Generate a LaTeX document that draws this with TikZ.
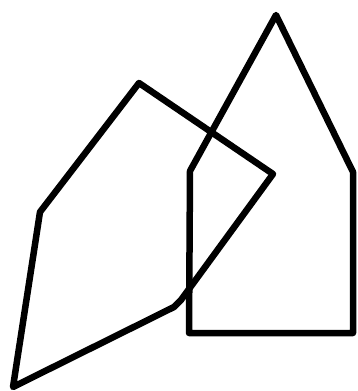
\documentclass[tikz,border=0pt]{standalone}
\usepackage{tikz}

\begin{document}
\begin{tikzpicture}[x=1pt,y=-1pt, outline/.style={line width=6.5pt,line join=round}]
  \useasboundingbox (0,0) rectangle (357,391);

  % house
  \draw[outline] (276,15) -- (353,172) -- (353,333) -- (189,333) -- (190,171) -- cycle;

  % tilted pentagon
  \draw[outline] (139,83) -- (273,174) -- (181,300) -- (174,307) -- (13,387) -- (40,212) -- cycle;
\end{tikzpicture}
\end{document}
